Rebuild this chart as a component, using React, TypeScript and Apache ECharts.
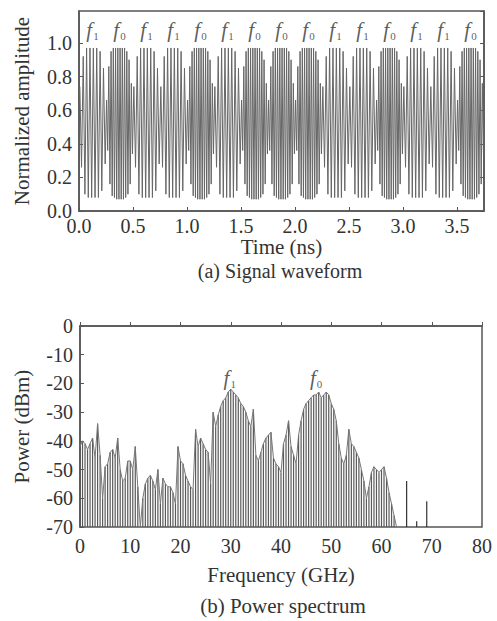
import React, { useEffect, useRef } from "react";
import * as echarts from "echarts";

// ---- Panel (a): FSK signal waveform ----
const BIT_PATTERN = [1, 0, 1, 1, 0, 1, 0, 0, 0, 1, 1, 0, 1, 1, 0]; // 1 -> f1, 0 -> f0
const BIT_DURATION_NS = 0.25;
// successive peak / trough values read over one f1 bit (8 cycles) and one f0 bit (12 cycles)
const F1_BIT_EXTREMES = [0.74, 0.26, 0.92, 0.1, 0.97, 0.08, 0.97, 0.08, 0.97, 0.08, 0.97, 0.08, 0.95, 0.12, 0.85, 0.28];
const F0_BIT_EXTREMES = [
  0.66, 0.36, 0.86, 0.16, 0.95, 0.09, 0.97, 0.08, 0.97, 0.07, 0.97, 0.07,
  0.97, 0.07, 0.97, 0.07, 0.97, 0.08, 0.95, 0.1, 0.9, 0.16, 0.76, 0.34,
];
const WAVE_LABEL_LEVEL = 1.075;

// ---- Panel (b): power spectrum ----
const SPECTRUM_START_GHZ = 0;
const SPECTRUM_STEP_GHZ = 0.5;
const SPECTRUM_DBM = [
  -42, -40, -41, -43, -41, -39, -46, -34, -45, -60, -49, -48, -44, -43, -46, -39,
  -50, -54, -53, -47, -47, -50, -42, -56, -70, -60, -55, -53, -52, -54, -57, -50,
  -62, -53, -55, -56, -56, -58, -62, -42, -47, -48, -52, -54, -56, -57, -36, -42,
  -39, -41, -43, -44, -55, -30, -35, -31, -28, -26, -25, -23, -22, -23, -24, -25,
  -27, -28, -30, -33, -35, -29, -45, -47, -44, -41, -39, -38, -37, -46, -48, -49,
  -51, -41, -38, -33, -42, -45, -48, -38, -33, -29, -27, -26, -25, -24, -24, -23,
  -25, -24, -23, -24, -27, -29, -33, -41, -46, -48, -45, -36, -41, -42, -44, -46,
  -50, -54, -60, -56, -51, -49, -50, -51, -50, -49, -53, -58, -62, -66, -70,
];
const ISOLATED_FREQ_GHZ = [65, 67, 69];
const ISOLATED_DBM = [-54, -68, -61];
const SPECTRUM_LABELS = [
  { freq: 29.8, dbm: -18, sub: "1" },
  { freq: 47, dbm: -18, sub: "0" },
];
const DBM_FLOOR = -70;

const FONT = "'Liberation Serif', 'Times New Roman', serif";
const AXIS_COLOR = "#555";
const TEXT_COLOR = "#333";

const richF = {
  f: { fontFamily: FONT, fontStyle: "italic", fontSize: 21, color: TEXT_COLOR },
  s: { fontFamily: FONT, fontSize: 11, color: TEXT_COLOR, padding: [12, 0, 0, 1] },
};

export default function App() {
  const ref = useRef<HTMLDivElement>(null);

  useEffect(() => {
    if (!ref.current) return;
    const chart = echarts.init(ref.current, undefined, { renderer: "svg" });

    const wave: number[][] = [];
    BIT_PATTERN.forEach((bit, i) => {
      const tpl = bit === 1 ? F1_BIT_EXTREMES : F0_BIT_EXTREMES;
      tpl.forEach((v, k) => {
        wave.push([(i + (k + 0.5) / tpl.length) * BIT_DURATION_NS, v]);
      });
    });
    const waveLabels = BIT_PATTERN.map((bit, i) => ({
      value: [(i + 0.5) * BIT_DURATION_NS, WAVE_LABEL_LEVEL],
      sub: bit === 1 ? "1" : "0",
    }));
    const spectrum = SPECTRUM_DBM.map((v, i) => [SPECTRUM_START_GHZ + i * SPECTRUM_STEP_GHZ, v]);
    const isolated = ISOLATED_FREQ_GHZ.map((f, i) => [f, ISOLATED_DBM[i]]);

    const stemRender = (color: string, width: number) => (params: any, api: any) => {
      const x = api.value(0);
      const y = api.value(1);
      const top = api.coord([x, y]);
      const base = api.coord([x, DBM_FLOOR]);
      return {
        type: "line",
        shape: { x1: top[0], y1: top[1], x2: base[0], y2: base[1] },
        style: { stroke: color, lineWidth: width },
      };
    };

    const tickLabel = { fontFamily: FONT, fontSize: 20, color: TEXT_COLOR };
    const nameStyle = { fontFamily: FONT, fontSize: 21, color: TEXT_COLOR };

    chart.setOption({
      animation: false,
      backgroundColor: "#fff",
      grid: [
        { left: 79, top: 11, width: 405, height: 200, show: true, borderColor: AXIS_COLOR, borderWidth: 1.5, backgroundColor: "transparent" },
        { left: 80, top: 326, width: 402, height: 201, show: true, borderColor: AXIS_COLOR, borderWidth: 1.5, backgroundColor: "transparent" },
      ],
      xAxis: [
        {
          type: "value", gridIndex: 0, min: 0, max: 3.75, interval: 0.5,
          name: "Time (ns)", nameLocation: "middle", nameGap: 21, nameTextStyle: nameStyle,
          axisLine: { lineStyle: { color: AXIS_COLOR, width: 1.5 } },
          axisTick: { inside: true, length: 4, lineStyle: { color: AXIS_COLOR } },
          axisLabel: { ...tickLabel, margin: 5, showMaxLabel: false, formatter: (v: number) => v.toFixed(1) },
          splitLine: { show: false },
        },
        {
          type: "value", gridIndex: 1, min: 0, max: 80, interval: 10,
          name: "Frequency (GHz)", nameLocation: "middle", nameGap: 37, nameTextStyle: nameStyle,
          axisLine: { lineStyle: { color: AXIS_COLOR, width: 1.5 } },
          axisTick: { inside: true, length: 4, lineStyle: { color: AXIS_COLOR } },
          axisLabel: { ...tickLabel, margin: 9 },
          splitLine: { show: false },
        },
      ],
      yAxis: [
        {
          type: "value", gridIndex: 0, min: 0, max: 1.19, interval: 0.2,
          name: "Normalized amplitude", nameLocation: "middle", nameGap: 47, nameTextStyle: nameStyle,
          axisLine: { lineStyle: { color: AXIS_COLOR, width: 1.5 } },
          axisTick: { inside: true, length: 4, lineStyle: { color: AXIS_COLOR } },
          axisLabel: { ...tickLabel, margin: 7, showMaxLabel: false, formatter: (v: number) => v.toFixed(1) },
          splitLine: { show: false },
        },
        {
          type: "value", gridIndex: 0, position: "right", min: 0, max: 1.19, interval: 0.2,
          axisLine: { show: true, lineStyle: { color: AXIS_COLOR, width: 1.5 } },
          axisTick: { inside: true, length: 4, lineStyle: { color: AXIS_COLOR } },
          axisLabel: { show: false },
          splitLine: { show: false },
        },
        {
          type: "value", gridIndex: 1, min: -70, max: 0, interval: 10,
          name: "Power (dBm)", nameLocation: "middle", nameGap: 48, nameTextStyle: nameStyle,
          axisLine: { lineStyle: { color: AXIS_COLOR, width: 1.5 } },
          axisTick: { inside: true, length: 4, lineStyle: { color: AXIS_COLOR } },
          axisLabel: { ...tickLabel, margin: 7 },
          splitLine: { show: false },
        },
      ],
      series: [
        {
          type: "line", xAxisIndex: 0, yAxisIndex: 0, data: wave, showSymbol: false,
          lineStyle: { color: "#666", width: 1 }, clip: true,
        },
        {
          type: "scatter", xAxisIndex: 0, yAxisIndex: 0, symbolSize: 0,
          data: waveLabels.map((d) => ({ value: d.value, sub: d.sub })),
          label: {
            show: true, position: "inside",
            formatter: (p: any) => `{f|f}{s|${p.data.sub}}`,
            rich: richF,
          },
        },
        {
          type: "custom", xAxisIndex: 1, yAxisIndex: 2, data: spectrum,
          renderItem: stemRender("#5a5a5a", 1.2),
        },
        {
          type: "line", xAxisIndex: 1, yAxisIndex: 2, data: spectrum, showSymbol: false,
          lineStyle: { color: "#777", width: 1 },
        },
        {
          type: "custom", xAxisIndex: 1, yAxisIndex: 2, data: isolated,
          renderItem: stemRender("#333", 1.2),
        },
        {
          type: "scatter", xAxisIndex: 1, yAxisIndex: 2, symbolSize: 0,
          data: SPECTRUM_LABELS.map((d) => ({ value: [d.freq, d.dbm], sub: d.sub })),
          label: {
            show: true, position: "inside",
            formatter: (p: any) => `{f|f}{s|${p.data.sub}}`,
            rich: richF,
          },
        },
      ],
      graphic: [
        { type: "text", x: 280, y: 271, style: { text: "(a) Signal waveform", fontFamily: FONT, fontSize: 20, fill: TEXT_COLOR, textAlign: "center", textVerticalAlign: "middle" } },
        { type: "text", x: 283, y: 606, style: { text: "(b) Power spectrum", fontFamily: FONT, fontSize: 21, fill: TEXT_COLOR, textAlign: "center", textVerticalAlign: "middle" } },
      ],
    });

    return () => chart.dispose();
  }, []);

  return <div ref={ref} style={{ position: "fixed", left: 0, top: 0, width: 497, height: 621 }} />;
}
